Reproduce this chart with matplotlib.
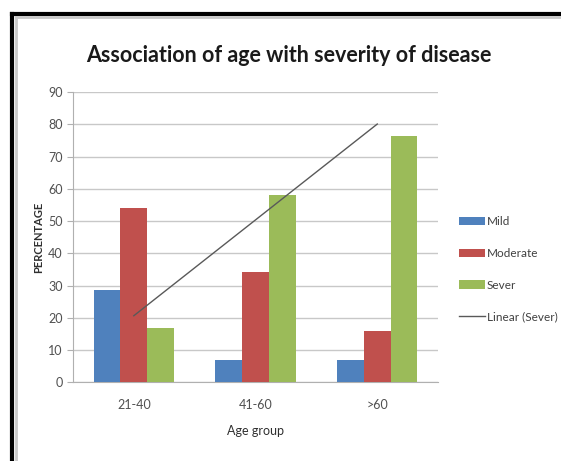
import numpy as np
import matplotlib.pyplot as plt
from matplotlib.lines import Line2D

plt.rcParams['font.family'] = ['Lato', 'DejaVu Sans']

groups = ['21-40', '41-60', '>60']
mild = [28.5, 7, 7]
moderate = [54.2, 34.3, 16]
sever = [16.8, 58, 76.3]

fig = plt.figure(figsize=(5.61, 4.61), dpi=100)
ax = fig.add_axes([0.130, 0.171, 0.651, 0.629])

x = np.arange(len(groups))
w = 0.22
b1 = ax.bar(x - w, mild, w, color='#4f81bd', label='Mild', zorder=3)
b2 = ax.bar(x, moderate, w, color='#c0504d', label='Moderate', zorder=3)
b3 = ax.bar(x + w, sever, w, color='#9bbb59', label='Sever', zorder=3)

# linear trendline on Sever
k, b = np.polyfit(x, sever, 1)
ln, = ax.plot(x, k * x + b, color='#595959', lw=1, label='Linear (Sever)', zorder=4)

ax.set_xlim(-0.5, 2.5)
ax.set_ylim(0, 90)
ax.set_yticks(range(0, 91, 10))
ax.set_xticks(x, groups)
ax.grid(axis='y', color='#c8c8c8', lw=1, zorder=0)
for s in ['top', 'right']:
    ax.spines[s].set_visible(False)
ax.spines['left'].set_color('#b0b0b0')
ax.spines['bottom'].set_color('#b0b0b0')
ax.tick_params(axis='y', colors='#b0b0b0', labelcolor='#505050', labelsize=9, length=4)
ax.tick_params(axis='x', length=0, labelcolor='#505050', labelsize=9, pad=12)

ax.set_xlabel('Age group', fontsize=9, color='#303030', labelpad=10)
ax.set_ylabel('PERCENTAGE', fontsize=8, fontweight='bold', color='#303030', labelpad=3)
fig.text(0.514, 0.880, 'Association of age with severity of disease',
         ha='center', va='center', fontsize=15.5, fontweight='bold', color='#1a1a1a')

ax.legend([b1, b2, b3, ln], ['Mild', 'Moderate', 'Sever', 'Linear (Sever)'],
          loc='center left', bbox_to_anchor=(0.799, 0.416), bbox_transform=fig.transFigure,
          frameon=False, fontsize=8.5, labelspacing=1.75, handlelength=2.2,
          handletextpad=0.15, labelcolor='#404040')

# frame around the chart image
fig.add_artist(Line2D([12 / 561, 12 / 561], [0, 1 - 14 / 461], transform=fig.transFigure,
                      color='black', lw=3))
fig.add_artist(Line2D([12 / 561, 1], [1 - 14 / 461, 1 - 14 / 461], transform=fig.transFigure,
                      color='black', lw=3))
fig.add_artist(Line2D([15.5 / 561, 15.5 / 561], [0, 1 - 17 / 461], transform=fig.transFigure,
                      color='#c8c8c8', lw=2))
fig.add_artist(Line2D([15.5 / 561, 1], [1 - 17 / 461, 1 - 17 / 461], transform=fig.transFigure,
                      color='#c8c8c8', lw=2))

fig.savefig('out.png', dpi=100)
